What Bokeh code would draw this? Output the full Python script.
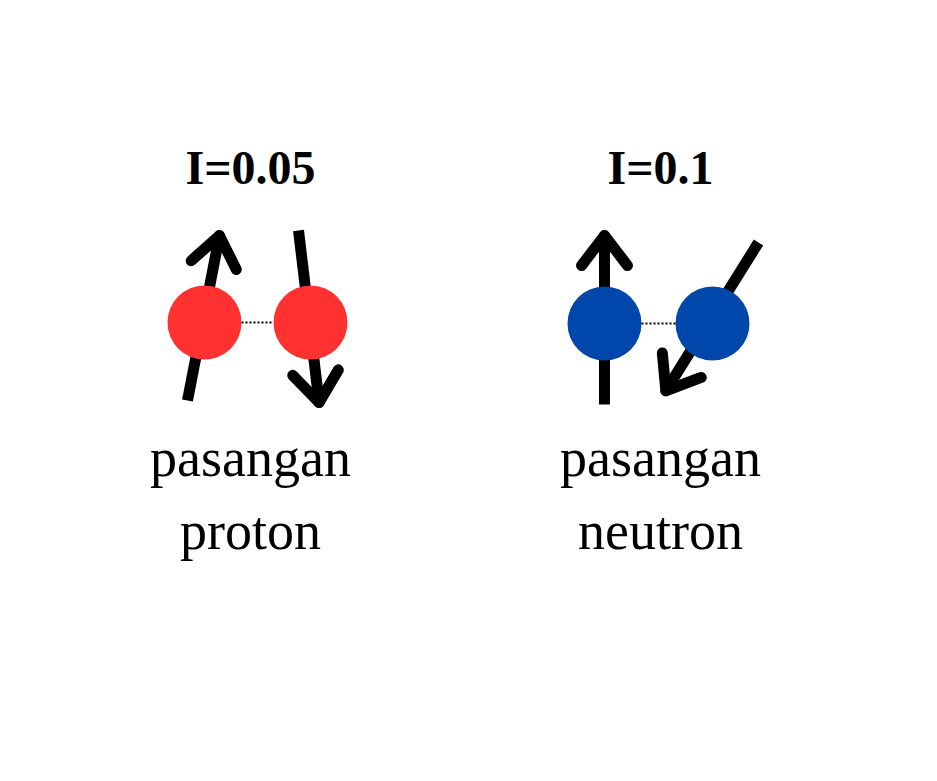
import math
from bokeh.plotting import figure
from bokeh.models import Range1d
from bokeh.core.properties import value
from bokeh.embed import file_html
from bokeh.resources import INLINE

# labels
titles = ["I=0.05", "I=0.1"]
title_x = [258, 668]
label_top = ["pasangan", "pasangan"]
label_bot = ["proton", "neutron"]

# nucleons
circle_x = [212, 318, 612, 720]
circle_y = [330, 330, 331, 331]
circle_col = ["#ff3131", "#ff3131", "#0047ab", "#0047ab"]

# spin arrows: tail -> head
arrow_x0 = [195, 306, 612, 766]
arrow_y0 = [408, 238, 412, 250]
arrow_x1 = [226, 326, 612, 676]
arrow_y1 = [248, 405, 248, 394]

# dotted bonds
bond_x0 = [249, 649]
bond_x1 = [281, 683]
bond_y = [330, 331]

W, H = 921, 765
p = figure(width=W, height=H, output_backend="svg", toolbar_location=None,
           x_range=Range1d(8, 8 + W), y_range=Range1d(8 + H, 8), min_border=0)
p.axis.visible = False
p.grid.visible = False
p.outline_line_color = None

p.segment(arrow_x0, arrow_y0, arrow_x1, arrow_y1, line_width=11, line_color="black")
hx0, hy0, hx1, hy1 = [], [], [], []
for x0, y0, x1, y1 in zip(arrow_x0, arrow_y0, arrow_x1, arrow_y1):
    a = math.atan2(y1 - y0, x1 - x0)
    for d in (2.4, -2.4):
        hx0.append(x1 + 5 * math.cos(a))
        hy0.append(y1 + 5 * math.sin(a))
        hx1.append(x1 + 34 * math.cos(a + d))
        hy1.append(y1 + 34 * math.sin(a + d))
p.segment(hx0, hy0, hx1, hy1, line_width=11, line_color="black", line_cap="round")

p.segment(bond_x0, bond_y, bond_x1, bond_y, line_width=2, line_color="black", line_dash="2 2")
p.circle(circle_x, circle_y, radius=37, fill_color=circle_col, line_color=None)

p.text(title_x, [175] * 2, text=titles, text_font=value("Liberation Serif"),
       text_font_style="bold", text_font_size="48px", text_align="center", text_baseline="middle")
p.text(title_x, [465] * 2, text=label_top, text_font=value("Liberation Serif"),
       text_font_size="54px", text_align="center", text_baseline="middle")
p.text(title_x, [538] * 2, text=label_bot, text_font=value("Liberation Serif"),
       text_font_size="54px", text_align="center", text_baseline="middle")

open("out.html", "w").write(file_html(p, INLINE))
